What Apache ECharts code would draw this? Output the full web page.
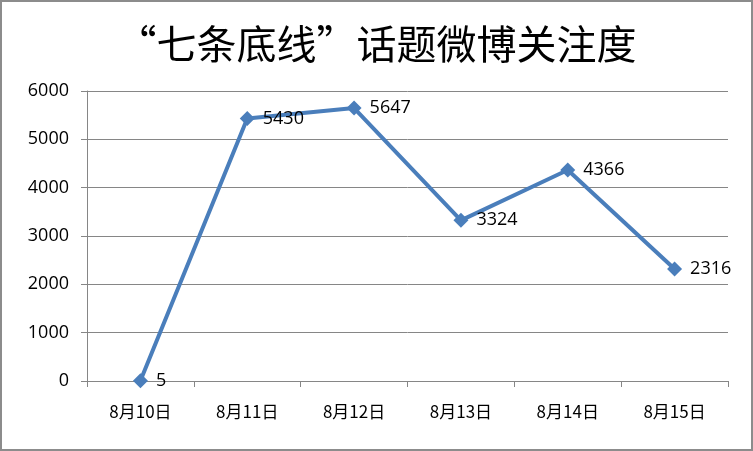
<!DOCTYPE html>
<html><head><meta charset="utf-8">
<script src="https://cdn.jsdelivr.net/npm/echarts@6/dist/echarts.min.js"></script>
<style>html,body{margin:0;padding:0;background:#fff;}#c{width:753px;height:451px;box-sizing:border-box;border:2px solid #8c8c8c;}</style>
</head><body><div id="c"></div>
<script>
const categories = ['8月10日','8月11日','8月12日','8月13日','8月14日','8月15日'];
const values = [5, 5430, 5647, 3324, 4366, 2316];
const titleText = '“七条底线”话题微博关注度';

const chart = echarts.init(document.getElementById('c'));
chart.setOption({
  backgroundColor: '#fff',
  animation: false,
  title: {
    text: titleText, left: 'center', top: 17,
    textStyle: {fontFamily: 'Noto Sans CJK SC', fontWeight: 'normal', fontSize: 40, color: '#000'}
  },
  grid: {left: 85, right: 23, top: 89, bottom: 68},
  xAxis: {
    type: 'category', data: categories, boundaryGap: true,
    axisLine: {lineStyle: {color: '#868686', width: 1}},
    axisTick: {show: true, length: 6, lineStyle: {color: '#868686'}},
    axisLabel: {color: '#000', fontSize: 17, margin: 22, fontFamily: 'Noto Sans CJK SC'}
  },
  yAxis: {
    type: 'value', min: 0, max: 6000, interval: 1000,
    axisLine: {show: true, lineStyle: {color: '#868686', width: 1}},
    axisTick: {show: true, length: 6, lineStyle: {color: '#868686'}},
    splitLine: {lineStyle: {color: '#868686', width: 1}},
    axisLabel: {color: '#000', fontSize: 18, margin: 18, fontFamily: 'Open Sans', formatter: v => String(v)}
  },
  series: [{
    type: 'line', data: values,
    symbol: 'diamond', symbolSize: 15,
    lineStyle: {color: '#4A7EBB', width: 4},
    itemStyle: {color: '#4A7EBB'},
    label: {show: true, position: 'right', distance: 8, color: '#000', fontSize: 18, fontFamily: 'Open Sans'}
  }]
});
</script></body></html>
